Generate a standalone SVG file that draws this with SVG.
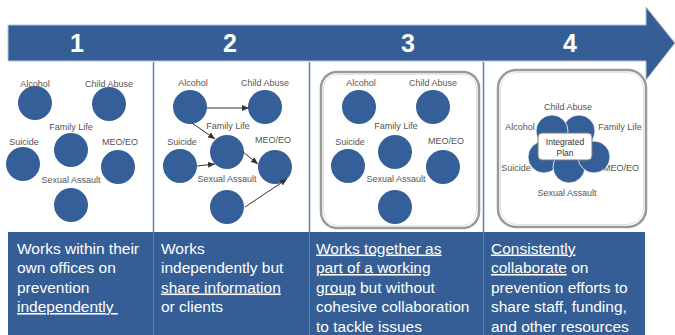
<svg xmlns="http://www.w3.org/2000/svg" width="675" height="335" viewBox="0 0 675 335">
<style>
.lbl{font-family:"Liberation Sans",Arial,sans-serif;font-size:9px;fill:#555;text-anchor:middle}
.num{font-family:"Liberation Sans",Arial,sans-serif;font-size:25px;font-weight:bold;fill:#fff;text-anchor:middle}
.body{font-family:"Liberation Sans",Arial,sans-serif;font-size:15.5px;fill:#fff}
.u{text-decoration:underline}
.c{fill:#355f99}
.pc{fill:#355f99;stroke:#fff;stroke-width:0.8}
.sep{stroke:#5f7fb3;stroke-width:1.5}
.box{fill:#fff;stroke:#9a9a9a;stroke-width:2.5}
.boxin{fill:none;stroke:#e2e2e2;stroke-width:1}
.con{stroke:#333;stroke-width:1;fill:none;marker-end:url(#ah)}
</style>
<defs>
<marker id="ah" markerWidth="7" markerHeight="6" refX="7" refY="3" orient="auto" markerUnits="userSpaceOnUse">
<path d="M0,0 L7,3 L0,6 Z" fill="#333"/>
</marker>
</defs>
<rect width="675" height="335" fill="#fff"/>

<g id="timeline-arrow">
<path d="M8,25 H646 V7 L675,43 L646,80 V61 H8 Z" fill="#345e95" stroke="#b4c2d6" stroke-width="1"/>
<text class="num" x="77" y="52">1</text>
<text class="num" x="230" y="52">2</text>
<text class="num" x="408" y="52">3</text>
<text class="num" x="570" y="52">4</text>
</g>

<g id="separators">
<line class="sep" x1="153.5" y1="62" x2="153.5" y2="232"/>
<line class="sep" x1="309.5" y1="62" x2="309.5" y2="232"/>
<line class="sep" x1="483.5" y1="62" x2="483.5" y2="232"/>
</g>

<g id="stage1">
<circle class="c" cx="35" cy="103" r="17"/><text class="lbl" x="35" y="87">Alcohol</text>
<circle class="c" cx="109" cy="104" r="17"/><text class="lbl" x="109" y="87">Child Abuse</text>
<circle class="c" cx="71" cy="150" r="17"/><text class="lbl" x="71" y="130">Family Life</text>
<circle class="c" cx="23" cy="164" r="17"/><text class="lbl" x="24" y="145">Suicide</text>
<circle class="c" cx="118" cy="167" r="17"/><text class="lbl" x="120" y="145">MEO/EO</text>
<circle class="c" cx="71" cy="205" r="17"/><text class="lbl" x="71" y="183">Sexual Assault</text>
</g>

<g id="stage2">
<circle class="c" cx="190" cy="107" r="17"/><text class="lbl" x="193" y="86">Alcohol</text>
<circle class="c" cx="265" cy="107" r="17"/><text class="lbl" x="265" y="86">Child Abuse</text>
<circle class="c" cx="227" cy="152" r="17"/><text class="lbl" x="228" y="129">Family Life</text>
<circle class="c" cx="180" cy="166" r="17"/><text class="lbl" x="182" y="145">Suicide</text>
<circle class="c" cx="275" cy="167" r="17"/><text class="lbl" x="273" y="143">MEO/EO</text>
<circle class="c" cx="227" cy="207" r="17"/><text class="lbl" x="227" y="182">Sexual Assault</text>
</g>

<g id="connectors">
<line class="con" x1="207" y1="108" x2="249" y2="108"/>
<line class="con" x1="192" y1="123" x2="215" y2="139"/>
<line class="con" x1="197" y1="166" x2="215" y2="164"/>
<line class="con" x1="243" y1="152" x2="258" y2="164"/>
<line class="con" x1="245" y1="207" x2="287" y2="179"/>
</g>

<g id="stage3">
<rect class="box" x="321" y="72" width="158" height="156" rx="16"/>
<rect class="boxin" x="323.5" y="74.5" width="153" height="151" rx="14"/>
<circle class="c" cx="359" cy="107" r="17"/><text class="lbl" x="361" y="86">Alcohol</text>
<circle class="c" cx="433" cy="107" r="17"/><text class="lbl" x="433" y="86">Child Abuse</text>
<circle class="c" cx="395" cy="152" r="17"/><text class="lbl" x="396" y="129">Family Life</text>
<circle class="c" cx="348" cy="166" r="17"/><text class="lbl" x="350" y="145">Suicide</text>
<circle class="c" cx="443" cy="167" r="17"/><text class="lbl" x="446" y="144">MEO/EO</text>
<circle class="c" cx="395" cy="207" r="17"/><text class="lbl" x="396" y="182">Sexual Assault</text>
</g>

<g id="stage4">
<rect class="box" x="498" y="70" width="148" height="157" rx="18"/>
<rect class="boxin" x="500.5" y="72.5" width="143" height="152" rx="16"/>
<circle class="pc" cx="544" cy="157" r="16"/>
<circle class="pc" cx="569" cy="167" r="16"/>
<circle class="pc" cx="594" cy="157" r="16"/>
<circle class="pc" cx="579" cy="131" r="16"/>
<circle class="pc" cx="552" cy="131" r="16"/>
<rect x="538" y="133" width="54" height="27" rx="4" fill="#fff" stroke="#7d7d7d" stroke-width="1"/>
<text class="lbl" x="565" y="145" style="fill:#333;font-size:8.5px">Integrated</text>
<text class="lbl" x="565" y="156" style="fill:#333;font-size:8.5px">Plan</text>
<text class="lbl" x="568" y="110">Child Abuse</text>
<text class="lbl" x="520" y="130">Alcohol</text>
<text class="lbl" x="620" y="130">Family Life</text>
<text class="lbl" x="516" y="171">Suicide</text>
<text class="lbl" x="621" y="171">MEO/EO</text>
<text class="lbl" x="567" y="196">Sexual Assault</text>
</g>

<g id="descriptions">
<rect x="8" y="232" width="637" height="103" fill="#345e95"/>
<line x1="153.5" y1="232" x2="153.5" y2="335" stroke="#5f7fb3" stroke-width="1"/>
<line x1="309.5" y1="232" x2="309.5" y2="335" stroke="#5f7fb3" stroke-width="1"/>
<line x1="483.5" y1="232" x2="483.5" y2="335" stroke="#5f7fb3" stroke-width="1"/>
<text class="body" x="17" y="253.5">Works within their</text>
<text class="body" x="17" y="273">own offices on</text>
<text class="body" x="17" y="292.5">prevention</text>
<text class="body u" x="17" y="312" xml:space="preserve">independently </text>

<text class="body" x="161" y="253.5">Works</text>
<text class="body" x="161" y="273">independently but</text>
<text class="body u" x="161" y="292.5">share information</text>
<text class="body" x="161" y="312">or clients</text>

<text class="body u" x="316" y="253.5">Works together as</text>
<text class="body u" x="316" y="273">part of a working</text>
<text class="body" x="316" y="292.5"><tspan class="u">group</tspan> but without</text>
<text class="body" x="316" y="312">cohesive collaboration</text>
<text class="body" x="316" y="331.5">to tackle issues</text>

<text class="body u" x="491" y="253.5">Consistently</text>
<text class="body" x="491" y="273"><tspan class="u">collaborate</tspan> on</text>
<text class="body" x="491" y="292.5">prevention efforts to</text>
<text class="body" x="491" y="312">share staff, funding,</text>
<text class="body" x="491" y="331.5">and other resources</text>
</g>
</svg>
